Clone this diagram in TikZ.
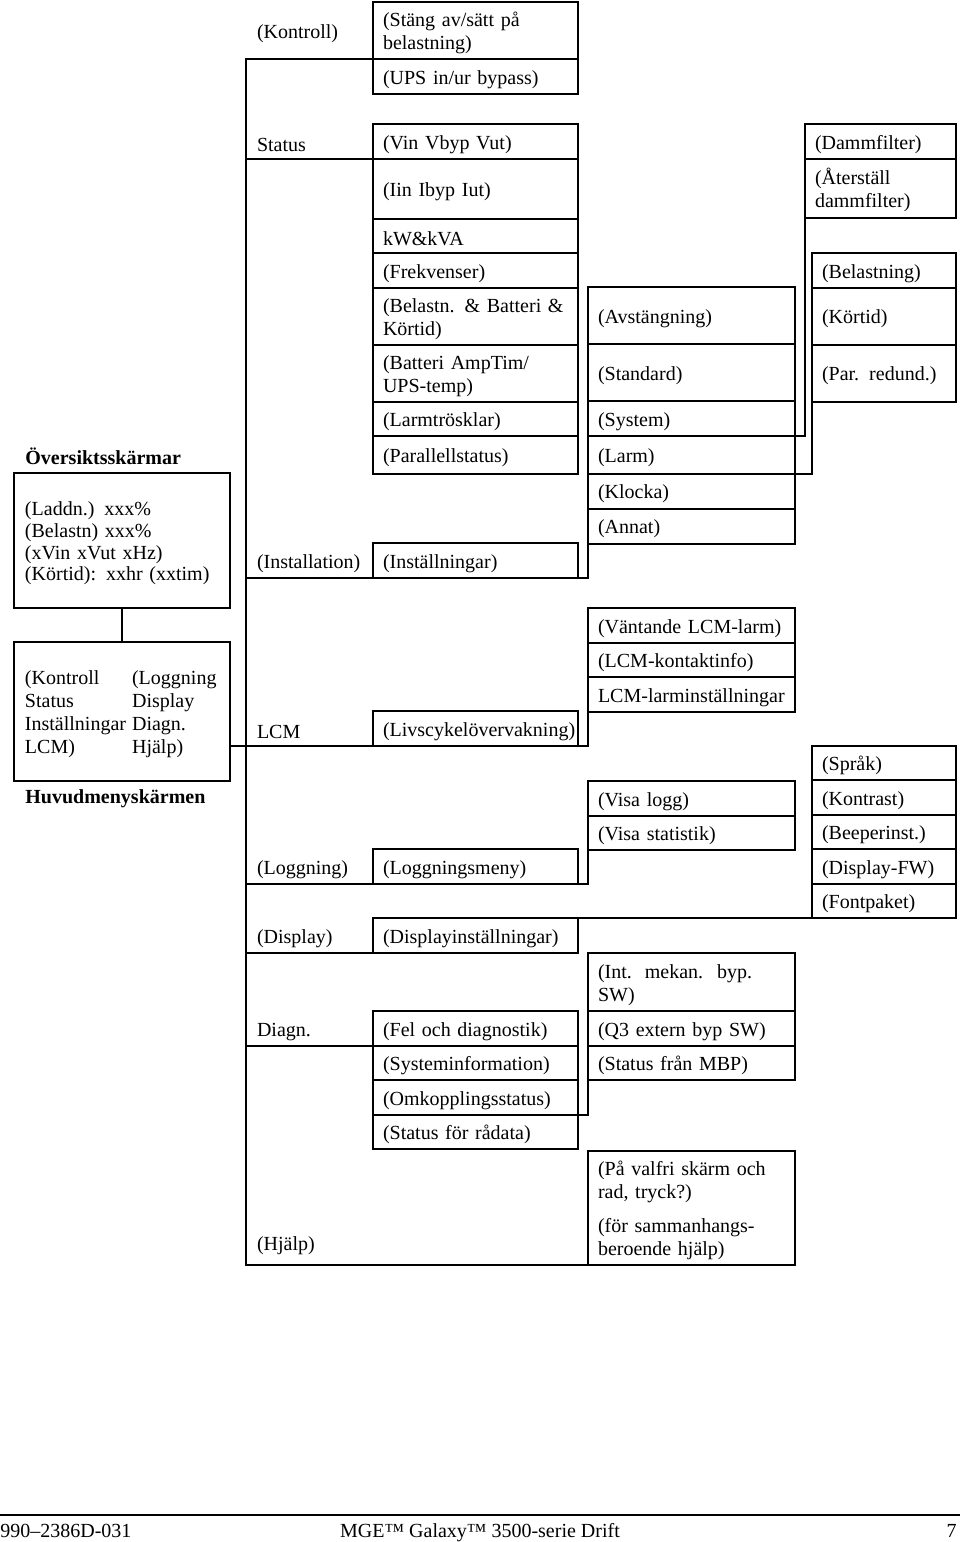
\documentclass[tikz,border=0pt]{standalone}
\usepackage{fontspec}
\setmainfont{Liberation Serif}
\usetikzlibrary{positioning}
\hyphenpenalty=10000
\exhyphenpenalty=10000
\newcommand{\brodtext}{\fontsize{10pt}{11.5pt}\selectfont}
\newcommand{\textlyft}{\rule{0pt}{10pt}}
\tikzstyle{cell} = [rectangle, draw=black, line width=1pt, outer sep=0pt, inner xsep=5pt, inner ysep=0pt, minimum height=17.25pt, align=left, font=\brodtext, execute at begin node=\textlyft]
\tikzstyle{meny} = [cell, text width=92.5pt]
\tikzstyle{undermeny} = [cell, text width=93.5pt]
\tikzstyle{val} = [cell, text width=62pt]
\tikzstyle{filter} = [cell, text width=65.5pt]
\tikzstyle{dubbel} = [minimum height=28.5pt]
\tikzstyle{gren} = [rectangle, outer sep=0pt, inner xsep=5.5pt, inner ysep=1pt, text width=52.5pt, align=left, font=\brodtext, execute at begin node=\textlyft]
\tikzstyle{skarm} = [rectangle, draw=black, line width=1pt, outer sep=0pt, inner xsep=5.5pt, text width=97pt, align=left, font=\brodtext]
\tikzstyle{rubrik} = [inner sep=0pt, font=\brodtext\bfseries]
\tikzstyle{fot} = [inner sep=0pt, font=\brodtext]
\tikzstyle{linje} = [line width=1pt]

\begin{document}
\begin{tikzpicture}[x=0.5pt, y=-0.5pt]
	\useasboundingbox (0,0) rectangle (960,1542);
	% Kontroll och Status
	\node (stang) [meny, dubbel, anchor=north west] at (373,2) {(Stäng av/sätt på\\belastning)};
	\node (ups) [meny, below=0pt of stang] {(UPS in/ur bypass)};
	\node (vin) [meny, anchor=north west] at (373,124) {(Vin Vbyp Vut)};
	\node (iin) [meny, minimum height=30pt, below=0pt of vin] {(Iin Ibyp Iut)};
	\node (kw) [meny, below=0pt of iin] {kW\&kVA};
	\node (frekv) [meny, below=0pt of kw] {(Frekvenser)};
	\node (belastn) [meny, dubbel, below=0pt of frekv] {(Belastn. \& Batteri \&\\Körtid)};
	\node (batteri) [meny, dubbel, below=0pt of belastn] {(Batteri AmpTim/\\UPS-temp)};
	\node (larmtr) [meny, below=0pt of batteri] {(Larmtrösklar)};
	\node (parallell) [meny, minimum height=19pt, below=0pt of larmtr] {(Parallellstatus)};
	% Installation
	\node (install) [meny, anchor=north west] at (373,543) {(Inställningar)};
	\node (avst) [undermeny, dubbel, anchor=north west] at (588,287) {(Avstängning)};
	\node (standard) [undermeny, dubbel, below=0pt of avst] {(Standard)};
	\node (system) [undermeny, below=0pt of standard] {(System)};
	\node (larm) [undermeny, minimum height=19pt, below=0pt of system] {(Larm)};
	\node (klocka) [undermeny, minimum height=17.5pt, below=0pt of larm] {(Klocka)};
	\node (annat) [undermeny, minimum height=17.5pt, below=0pt of klocka] {(Annat)};
	\node (damm) [filter, anchor=north west] at (805,124) {(Dammfilter)};
	\node (aterst) [filter, minimum height=29.5pt, below=0pt of damm] {(Återställ\\dammfilter)};
	\node (belastning) [val, anchor=north west] at (812,253) {(Belastning)};
	\node (kortid) [val, dubbel, below=0pt of belastning] {(Körtid)};
	\node (parred) [val, dubbel, below=0pt of kortid] {(Par. redund.)};
	% LCM
	\node (livscykel) [meny, anchor=north west] at (373,711) {(Livscykelövervakning)};
	\node (vantande) [undermeny, anchor=north west] at (588,608) {(Väntande LCM-larm)};
	\node (kontakt) [undermeny, below=0pt of vantande] {(LCM-kontaktinfo)};
	\node (larminst) [undermeny, below=0pt of kontakt] {\mbox{LCM-larminställningar}};
	% Loggning och Display
	\node (loggmeny) [meny, anchor=north west] at (373,849) {(Loggningsmeny)};
	\node (visalogg) [undermeny, anchor=north west] at (588,781) {(Visa logg)};
	\node (visastat) [undermeny, below=0pt of visalogg] {(Visa statistik)};
	\node (dispinst) [meny, anchor=north west] at (373,918) {(Displayinställningar)};
	\node (sprak) [val, anchor=north west] at (812,745.5) {(Språk)};
	\node (kontrast) [val, below=0pt of sprak] {(Kontrast)};
	\node (beeper) [val, below=0pt of kontrast] {(Beeperinst.)};
	\node (dispfw) [val, below=0pt of beeper] {(Display-FW)};
	\node (fontpaket) [val, below=0pt of dispfw] {(Fontpaket)};
	% Diagn. och Hjälp
	\node (fel) [meny, anchor=north west] at (373,1011) {(Fel och diagnostik)};
	\node (sysinfo) [meny, below=0pt of fel] {(Systeminformation)};
	\node (omkoppl) [meny, below=0pt of sysinfo] {(Omkopplingsstatus)};
	\node (radata) [meny, below=0pt of omkoppl] {(Status för rådata)};
	\node (intmek) [undermeny, minimum height=29pt, anchor=north west] at (588,953) {(Int.\hspace{1.5pt} mekan.\hspace{2pt} byp.\\SW)};
	\node (q3) [undermeny, below=0pt of intmek] {(Q3 extern byp SW)};
	\node (mbp) [undermeny, below=0pt of q3] {(Status från MBP)};
	\node (pavalfri) [undermeny, minimum height=57pt, anchor=north west] at (588,1151) {(På valfri skärm och\\rad, tryck?)\\[5.5pt](för sammanhangs-\\beroende hjälp)};
	% grenar
	\node (kontroll) [gren, left=0pt of stang] {(Kontroll)};
	\node (status) [gren, left=0pt of vin] {Status};
	\node (installation) [gren, left=0pt of install] {(Installation)};
	\node (lcm) [gren, left=0pt of livscykel] {LCM};
	\node (loggning) [gren, left=0pt of loggmeny] {(Loggning)};
	\node (display) [gren, left=0pt of dispinst] {(Display)};
	\node (diagn) [gren, left=0pt of fel] {Diagn.};
	\node (hjalp) [gren, anchor=base west] at (246,1250) {(Hjälp)};
	% skärmar
	\node (ovrubrik) [rubrik, anchor=base west] at (25,464) {Översiktsskärmar};
	\node (oversikt) [skarm, minimum height=67.5pt, anchor=north west, font=\fontsize{10pt}{10.8pt}\selectfont] at (14,473) {\textlyft(Laddn.) xxx\%\\(Belastn) xxx\%\\(xVin xVut xHz)\\(Körtid): xxhr (xxtim)};
	\node (huvud) [skarm, minimum height=69.5pt, anchor=north west] at (14,642) {\raisebox{-1.5pt}[\height][\depth]{\begin{tabular}{@{}l@{\hspace{3pt}}l@{}}(Kontroll & (Loggning\\Status & Display\\Inställningar & Diagn.\\LCM) & Hjälp)\end{tabular}}};
	\node (huvudrubrik) [rubrik, anchor=base west] at (25,803) {Huvudmenyskärmen};
	% linjer
	\coordinate (trunk) at (246,59);
	\draw [linje] (stang.south west) -- (trunk) |- (pavalfri.south west);
	\foreach \menyval in {vin, install, livscykel, loggmeny, dispinst, fel}
		\draw [linje] (\menyval.south west) -- (\menyval.south west -| trunk);
	\draw [linje] (oversikt) -- (huvud);
	\draw [linje] (huvud.east |- livscykel.south) -- (trunk |- livscykel.south);
	\draw [linje] (install.south east) -| (annat.south west);
	\draw [linje] (system.south east) -| (aterst.south west);
	\draw [linje] (larm.south east) -| (parred.south west);
	\draw [linje] (livscykel.south east) -| (larminst.south west);
	\draw [linje] (loggmeny.south east) -| (visastat.south west);
	\draw [linje] (dispinst.north east) -- (dispinst.north east -| fontpaket.south west);
	\draw [linje] (omkoppl.south east) -| (mbp.south west);
	% sidfot
	\coordinate (fotv) at (0,1515);
	\coordinate (foth) at (960,1515);
	\draw [linje] (fotv) -- (foth);
	\node (dokid) [fot, anchor=base west] at (0,1537) {990–2386D-031};
	\node (titel) [fot, anchor=base] at (480,1537) {MGE™ Galaxy™ 3500-serie Drift};
	\node (sida) [fot, anchor=base east] at (957,1537) {7};
\end{tikzpicture}
\end{document}
